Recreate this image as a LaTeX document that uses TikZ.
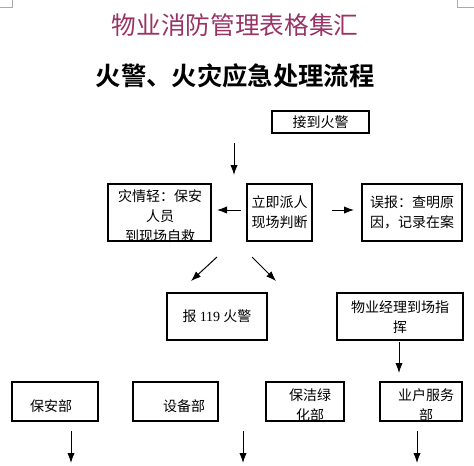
\documentclass[tikz,border=0pt]{standalone}
\usepackage{fontspec}
\usetikzlibrary{arrows.meta}
\newfontfamily\cjk{Noto Sans CJK SC}[BoldFont={Noto Sans CJK SC Bold}]
\newfontfamily\latinserif{Liberation Serif}
\definecolor{titlepurple}{RGB}{153,51,102}
\definecolor{markgray}{RGB}{170,170,170}
\tikzset{
  box/.style={draw=black, line width=0.9pt, align=center, inner sep=0pt,
    font=\cjk\fontsize{10.5pt}{15pt}\selectfont},
  boxtext/.style={align=center, inner sep=0pt,
    font=\cjk\fontsize{10.5pt}{15pt}\selectfont},
  flow/.style={line width=0.75pt, -{Latex[length=7.5pt,width=5.5pt]}},
  cornermark/.style={draw=markgray, line width=0.6pt}
}
\begin{document}
\begin{tikzpicture}[x=0.75pt,y=-0.75pt]
\useasboundingbox (0,0) rectangle (474,465);
% page corner marks
\draw[cornermark] (0,7) -- (12,7) -- (12,0);
\draw[cornermark] (474,7) -- (457,7) -- (457,0);
% titles
\node[text=titlepurple, font=\cjk\fontsize{18.5pt}{22pt}\selectfont, inner sep=0pt] (title) at (235,25) {物业消防管理表格集汇};
\node[font=\cjk\bfseries\fontsize{19pt}{23pt}\selectfont, inner sep=0pt] (subtitle) at (235,76) {火警、火灾应急处理流程};
% boxes
\node[box, minimum width=97*0.75pt, minimum height=22*0.75pt] (receive) at (320.5,122) {接到火警};
\node[boxtext] (lighttext) at (160,216) {灾情轻：保安\\人员\\到现场自救};
\node[box, minimum width=103*0.75pt, minimum height=57*0.75pt] (light) at (159.5,212.5) {};
\node[box, minimum width=65*0.75pt, minimum height=57*0.75pt] (dispatch) at (279.5,212.5) {立即派人\\现场判断};
\node[box, minimum width=100*0.75pt, minimum height=57*0.75pt] (false) at (412,212.5) {误报：查明原\\因，记录在案};
\node[box, minimum width=100*0.75pt, minimum height=47*0.75pt] (call) at (217,316.5) {报 {\latinserif 119} 火警};
\node[boxtext] (managertext) at (400,317) {物业经理到场指\\挥};
\node[box, minimum width=126*0.75pt, minimum height=47*0.75pt] (manager) at (400,316.5) {};
\node[boxtext] (securitytext) at (51,406) {保安部};
\node[box, minimum width=86*0.75pt, minimum height=39*0.75pt] (security) at (55,401.5) {};
\node[boxtext] (equiptext) at (184,406) {设备部};
\node[box, minimum width=85*0.75pt, minimum height=39*0.75pt] (equip) at (175.5,401.5) {};
\node[boxtext] (cleantext) at (310,405) {保洁绿\\化部};
\node[box, minimum width=78*0.75pt, minimum height=39*0.75pt] (clean) at (305,401.5) {};
\node[boxtext] (ownertext) at (426,405) {业户服务\\部};
\node[box, minimum width=82*0.75pt, minimum height=39*0.75pt] (owner) at (421,401.5) {};
% arrow end points
\coordinate (a1s) at (234,143);  \coordinate (a1e) at (234,175);
\coordinate (a2s) at (241,210);  \coordinate (a2e) at (217,210);
\coordinate (a3s) at (332,210);  \coordinate (a3e) at (354,210);
\coordinate (a4s) at (217,257);  \coordinate (a4e) at (191,281);
\coordinate (a5s) at (252,257);  \coordinate (a5e) at (276,281);
\coordinate (a6s) at (399,342);  \coordinate (a6e) at (399,373);
\coordinate (a7s) at (71,431);   \coordinate (a7e) at (71,463);
\coordinate (a8s) at (243,431);  \coordinate (a8e) at (243,463);
\coordinate (a9s) at (417,431);  \coordinate (a9e) at (417,463);
% arrows
\draw[flow] (a1s) -- (a1e);
\draw[flow] (a2s) -- (a2e);
\draw[flow] (a3s) -- (a3e);
\draw[flow] (a4s) -- (a4e);
\draw[flow] (a5s) -- (a5e);
\draw[flow] (a6s) -- (a6e);
\draw[flow] (a7s) -- (a7e);
\draw[flow] (a8s) -- (a8e);
\draw[flow] (a9s) -- (a9e);
\end{tikzpicture}
\end{document}
